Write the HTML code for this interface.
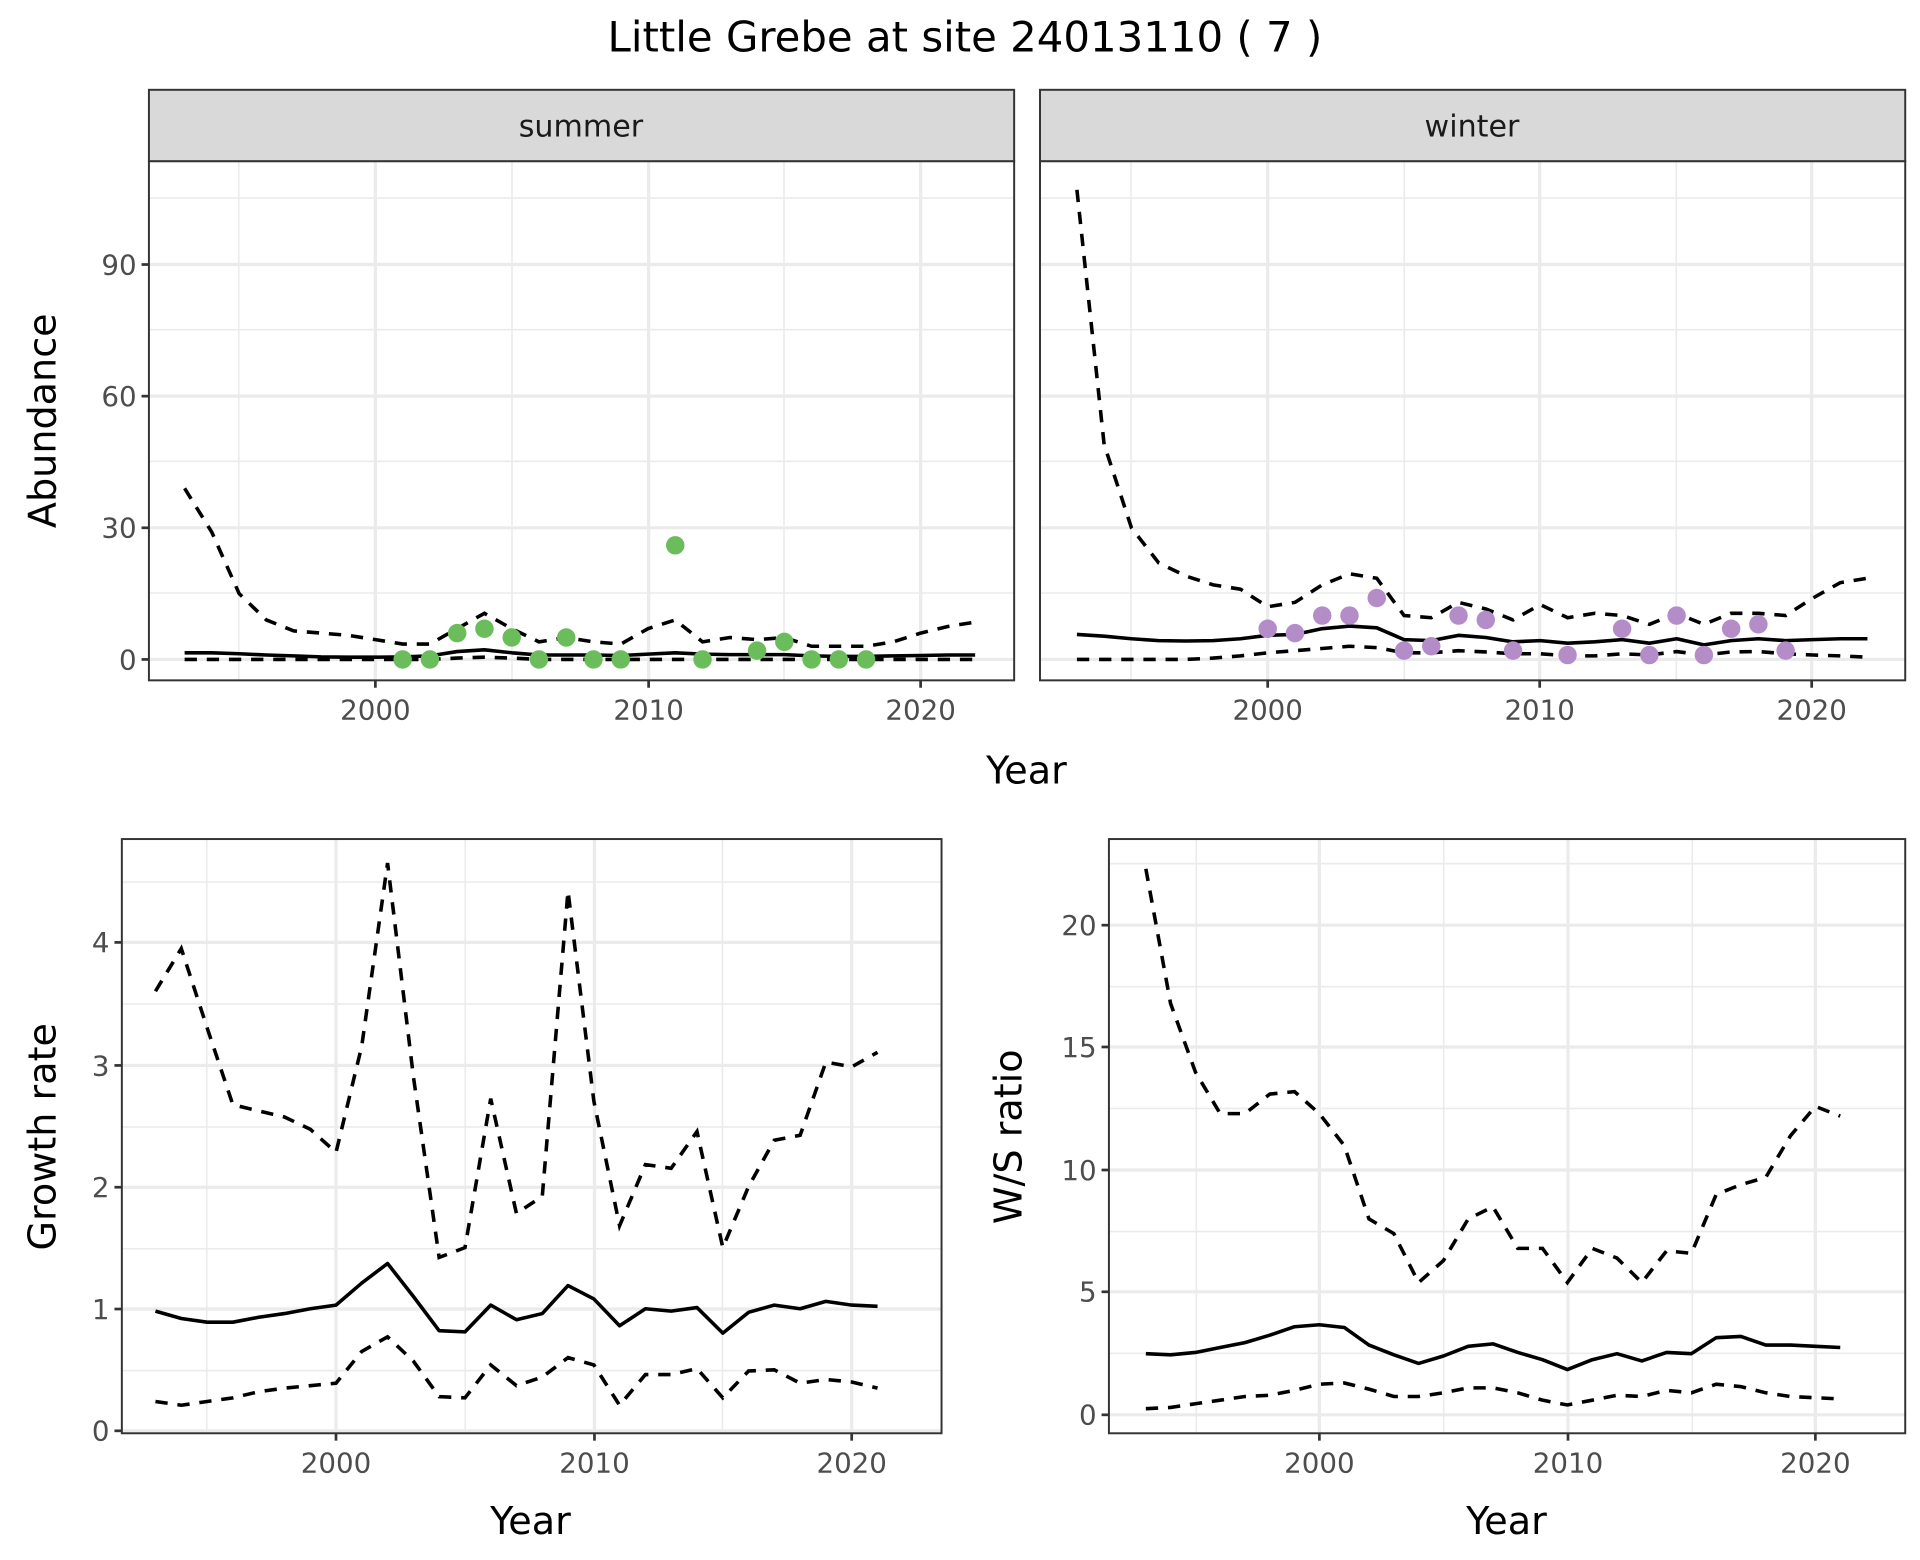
<!DOCTYPE html>
<html><head><meta charset="utf-8"><style>
html,body{margin:0;padding:0;background:#fff;}
svg{display:block;}
text{font-family:"DejaVu Sans","Liberation Sans",sans-serif;}
.tk{font-size:22.5px;fill:#4d4d4d;}
.ax{font-size:31px;fill:#000;}
.gmaj{stroke:#ebebeb;stroke-width:2.6;}
.gmin{stroke:#ebebeb;stroke-width:1.3;}
.bd{fill:none;stroke:#333;stroke-width:1.6;}
.tick{stroke:#333;stroke-width:2.2;}
.s{fill:none;stroke:#000;stroke-width:2.9;stroke-linejoin:round;}
.d{fill:none;stroke:#000;stroke-width:2.9;stroke-dasharray:10,8;}
</style></head><body>
<svg id="c" width="1920" height="1560" viewBox="0 0 1560 1268" preserveAspectRatio="none" xmlns="http://www.w3.org/2000/svg">
<rect width="1560" height="1268" fill="#fff"/>
<text x="784" y="42" text-anchor="middle" style="font-size:34px">Little Grebe at site 24013110 ( 7 )</text>

<g>
<line class="gmin" x1="121" x2="824" y1="161" y2="161"/><line class="gmin" x1="121" x2="824" y1="268" y2="268"/><line class="gmin" x1="121" x2="824" y1="375" y2="375"/><line class="gmin" x1="121" x2="824" y1="482" y2="482"/>
<line class="gmin" x1="194" x2="194" y1="131" y2="553"/><line class="gmin" x1="416" x2="416" y1="131" y2="553"/><line class="gmin" x1="637" x2="637" y1="131" y2="553"/>
<line class="gmaj" x1="121" x2="824" y1="215" y2="215"/><line class="gmaj" x1="121" x2="824" y1="322" y2="322"/><line class="gmaj" x1="121" x2="824" y1="429" y2="429"/><line class="gmaj" x1="121" x2="824" y1="536" y2="536"/>
<line class="gmaj" x1="305" x2="305" y1="131" y2="553"/><line class="gmaj" x1="527" x2="527" y1="131" y2="553"/><line class="gmaj" x1="748" x2="748" y1="131" y2="553"/>
<g id="sumS"></g>
<rect class="bd" x="121" y="131" width="703" height="422"/>
<rect x="121" y="73" width="703" height="58" fill="#d9d9d9" stroke="#333" stroke-width="1.6"/>
<text x="472" y="111" text-anchor="middle" style="font-size:24.5px;fill:#1a1a1a">summer</text>
</g>
<g>
<line class="gmin" x1="845" x2="1548" y1="161" y2="161"/><line class="gmin" x1="845" x2="1548" y1="268" y2="268"/><line class="gmin" x1="845" x2="1548" y1="375" y2="375"/><line class="gmin" x1="845" x2="1548" y1="482" y2="482"/>
<line class="gmin" x1="919" x2="919" y1="131" y2="553"/><line class="gmin" x1="1141" x2="1141" y1="131" y2="553"/><line class="gmin" x1="1362" x2="1362" y1="131" y2="553"/>
<line class="gmaj" x1="845" x2="1548" y1="215" y2="215"/><line class="gmaj" x1="845" x2="1548" y1="322" y2="322"/><line class="gmaj" x1="845" x2="1548" y1="429" y2="429"/><line class="gmaj" x1="845" x2="1548" y1="536" y2="536"/>
<line class="gmaj" x1="1030" x2="1030" y1="131" y2="553"/><line class="gmaj" x1="1251" x2="1251" y1="131" y2="553"/><line class="gmaj" x1="1472" x2="1472" y1="131" y2="553"/>
<g id="winS"></g>
<rect class="bd" x="845" y="131" width="703" height="422"/>
<rect x="845" y="73" width="703" height="58" fill="#d9d9d9" stroke="#333" stroke-width="1.6"/>
<text x="1196" y="111" text-anchor="middle" style="font-size:24.5px;fill:#1a1a1a">winter</text>
</g>
<line class="tick" x1="115" x2="121" y1="215" y2="215"/><line class="tick" x1="115" x2="121" y1="322" y2="322"/><line class="tick" x1="115" x2="121" y1="429" y2="429"/><line class="tick" x1="115" x2="121" y1="536" y2="536"/>
<text class="tk" x="111" y="223" text-anchor="end">90</text><text class="tk" x="111" y="330" text-anchor="end">60</text><text class="tk" x="111" y="437" text-anchor="end">30</text><text class="tk" x="111" y="544" text-anchor="end">0</text>
<line class="tick" x1="305" x2="305" y1="553" y2="559"/><line class="tick" x1="527" x2="527" y1="553" y2="559"/><line class="tick" x1="748" x2="748" y1="553" y2="559"/>
<line class="tick" x1="1030" x2="1030" y1="553" y2="559"/><line class="tick" x1="1251" x2="1251" y1="553" y2="559"/><line class="tick" x1="1472" x2="1472" y1="553" y2="559"/>
<text class="tk" x="305" y="585" text-anchor="middle">2000</text><text class="tk" x="527" y="585" text-anchor="middle">2010</text><text class="tk" x="748" y="585" text-anchor="middle">2020</text>
<text class="tk" x="1030" y="585" text-anchor="middle">2000</text><text class="tk" x="1251" y="585" text-anchor="middle">2010</text><text class="tk" x="1472" y="585" text-anchor="middle">2020</text>
<text class="ax" x="834" y="637" text-anchor="middle">Year</text>
<text class="ax" transform="translate(45,342) rotate(-90)" text-anchor="middle">Abundance</text>

<g>
<line class="gmin" x1="99" x2="765" y1="1114" y2="1114"/><line class="gmin" x1="99" x2="765" y1="1015" y2="1015"/><line class="gmin" x1="99" x2="765" y1="916" y2="916"/><line class="gmin" x1="99" x2="765" y1="816" y2="816"/><line class="gmin" x1="99" x2="765" y1="717" y2="717"/>
<line class="gmin" x1="168" x2="168" y1="682" y2="1165"/><line class="gmin" x1="378" x2="378" y1="682" y2="1165"/><line class="gmin" x1="587" x2="587" y1="682" y2="1165"/>
<line class="gmaj" x1="99" x2="765" y1="1163" y2="1163"/><line class="gmaj" x1="99" x2="765" y1="1064" y2="1064"/><line class="gmaj" x1="99" x2="765" y1="965" y2="965"/><line class="gmaj" x1="99" x2="765" y1="866" y2="866"/><line class="gmaj" x1="99" x2="765" y1="766" y2="766"/>
<line class="gmaj" x1="273" x2="273" y1="682" y2="1165"/><line class="gmaj" x1="483" x2="483" y1="682" y2="1165"/><line class="gmaj" x1="692" x2="692" y1="682" y2="1165"/>
<g id="grS"></g>
<rect class="bd" x="99" y="682" width="666" height="483"/>
</g>
<line class="tick" x1="93" x2="99" y1="1163" y2="1163"/><line class="tick" x1="93" x2="99" y1="1064" y2="1064"/><line class="tick" x1="93" x2="99" y1="965" y2="965"/><line class="tick" x1="93" x2="99" y1="866" y2="866"/><line class="tick" x1="93" x2="99" y1="766" y2="766"/>
<text class="tk" x="89" y="1171" text-anchor="end">0</text><text class="tk" x="89" y="1072" text-anchor="end">1</text><text class="tk" x="89" y="973" text-anchor="end">2</text><text class="tk" x="89" y="874" text-anchor="end">3</text><text class="tk" x="89" y="774" text-anchor="end">4</text>
<line class="tick" x1="273" x2="273" y1="1165" y2="1171"/><line class="tick" x1="483" x2="483" y1="1165" y2="1171"/><line class="tick" x1="692" x2="692" y1="1165" y2="1171"/>
<text class="tk" x="273" y="1197" text-anchor="middle">2000</text><text class="tk" x="483" y="1197" text-anchor="middle">2010</text><text class="tk" x="692" y="1197" text-anchor="middle">2020</text>
<text class="ax" x="431" y="1247" text-anchor="middle">Year</text>
<text class="ax" transform="translate(45,924) rotate(-90)" text-anchor="middle">Growth rate</text>

<g>
<line class="gmin" x1="901" x2="1548" y1="1100" y2="1100"/><line class="gmin" x1="901" x2="1548" y1="1001" y2="1001"/><line class="gmin" x1="901" x2="1548" y1="901" y2="901"/><line class="gmin" x1="901" x2="1548" y1="802" y2="802"/><line class="gmin" x1="901" x2="1548" y1="702" y2="702"/>
<line class="gmin" x1="972" x2="972" y1="682" y2="1165"/><line class="gmin" x1="1173" x2="1173" y1="682" y2="1165"/><line class="gmin" x1="1375" x2="1375" y1="682" y2="1165"/>
<line class="gmaj" x1="901" x2="1548" y1="1150" y2="1150"/><line class="gmaj" x1="901" x2="1548" y1="1050" y2="1050"/><line class="gmaj" x1="901" x2="1548" y1="951" y2="951"/><line class="gmaj" x1="901" x2="1548" y1="851" y2="851"/><line class="gmaj" x1="901" x2="1548" y1="752" y2="752"/>
<line class="gmaj" x1="1072" x2="1072" y1="682" y2="1165"/><line class="gmaj" x1="1274" x2="1274" y1="682" y2="1165"/><line class="gmaj" x1="1475" x2="1475" y1="682" y2="1165"/>
<g id="wsS"></g>
<rect class="bd" x="901" y="682" width="647" height="483"/>
</g>
<line class="tick" x1="895" x2="901" y1="1150" y2="1150"/><line class="tick" x1="895" x2="901" y1="1050" y2="1050"/><line class="tick" x1="895" x2="901" y1="951" y2="951"/><line class="tick" x1="895" x2="901" y1="851" y2="851"/><line class="tick" x1="895" x2="901" y1="752" y2="752"/>
<text class="tk" x="891" y="1158" text-anchor="end">0</text><text class="tk" x="891" y="1058" text-anchor="end">5</text><text class="tk" x="891" y="959" text-anchor="end">10</text><text class="tk" x="891" y="859" text-anchor="end">15</text><text class="tk" x="891" y="760" text-anchor="end">20</text>
<line class="tick" x1="1072" x2="1072" y1="1165" y2="1171"/><line class="tick" x1="1274" x2="1274" y1="1165" y2="1171"/><line class="tick" x1="1475" x2="1475" y1="1165" y2="1171"/>
<text class="tk" x="1072" y="1197" text-anchor="middle">2000</text><text class="tk" x="1274" y="1197" text-anchor="middle">2010</text><text class="tk" x="1475" y="1197" text-anchor="middle">2020</text>
<text class="ax" x="1224" y="1247" text-anchor="middle">Year</text>
<text class="ax" transform="translate(830,924) rotate(-90)" text-anchor="middle">W/S ratio</text>
</svg>
<script>
(function(){
var NS="http://www.w3.org/2000/svg";
function line(g,x0,py,y0,sy,start,data,cls){
 var d="";for(var i=0;i<data.length;i++){var x=x0+(start+i-2000)*py,y=y0-data[i]*sy;d+=(i?"L":"M")+x.toFixed(1)+","+y.toFixed(1);}
 var p=document.createElementNS(NS,"path");p.setAttribute("d",d);p.setAttribute("class",cls);g.appendChild(p);}
function pts(g,x0,py,y0,sy,arr,col){for(var i=0;i<arr.length;i++){var c=document.createElementNS(NS,"circle");c.setAttribute("cx",x0+(arr[i][0]-2000)*py);c.setAttribute("cy",y0-arr[i][1]*sy);c.setAttribute("r",7.5);c.setAttribute("fill",col);g.appendChild(c);}}
var sy=3.567,py=22.15;
var g=document.getElementById("sumS");
line(g,305,py,536,sy,1993,[39,29,15,9,6.5,6,5.5,4.5,3.5,3.5,7,10.5,7,4,5,4,3.5,7,9,4,5,4.5,5,3,3,3,4,6,7.5,8.5],"d");
line(g,305,py,536,sy,1993,[0,0,0,0,0,0,0,0,0,0,0.3,0.5,0.3,0,0,0,0,0,0,0,0,0,0,0,0,0,0,0,0,0],"d");
line(g,305,py,536,sy,1993,[1.5,1.5,1.3,1,0.8,0.6,0.5,0.5,0.6,0.8,1.8,2.2,1.5,1,1,1,0.9,1.2,1.5,1.2,1.1,1.1,1.1,0.8,0.7,0.7,0.8,0.9,1,1],"s");
pts(g,305,py,536,sy,[[2001,0],[2002,0],[2003,6],[2004,7],[2005,5],[2006,0],[2007,5],[2008,0],[2009,0],[2011,26],[2012,0],[2014,2],[2015,4],[2016,0],[2017,0],[2018,0]],"#6abd5a");
g=document.getElementById("winS");
line(g,1030,py,536,sy,1993,[107,49,30,22,19,17,16,12,13,17,19.5,18.5,10,9.5,13,11.5,9,12.5,9.5,10.5,10,8,10.5,8,10.5,10.5,10,14,17.5,18.5],"d");
line(g,1030,py,536,sy,1993,[0,0,0,0,0,0.3,0.8,1.5,2,2.5,3,2.7,1.5,1.5,2,1.7,1.3,1.3,0.8,0.8,1.3,1,1.8,1,1.7,1.8,1.3,1,0.8,0.5],"d");
line(g,1030,py,536,sy,1993,[5.7,5.3,4.7,4.3,4.2,4.3,4.7,5.5,5.7,7,7.6,7.2,4.5,4.3,5.5,5,4,4.3,3.7,4,4.5,3.7,4.7,3.3,4.3,4.7,4.3,4.5,4.7,4.7],"s");
pts(g,1030,py,536,sy,[[2000,7],[2001,6],[2002,10],[2003,10],[2004,14],[2005,2],[2006,3],[2007,10],[2008,9],[2009,2],[2011,1],[2013,7],[2014,1],[2015,10],[2016,1],[2017,7],[2018,8],[2019,2]],"#b48cc8");
g=document.getElementById("grS");
line(g,273,20.95,1163,99.25,1993,[3.6,3.95,3.3,2.67,2.62,2.57,2.47,2.28,3.15,4.65,2.9,1.42,1.5,2.72,1.78,1.92,4.42,2.7,1.68,2.18,2.15,2.45,1.5,2.0,2.38,2.42,3.02,2.98,3.1],"d");
line(g,273,20.95,1163,99.25,1993,[0.24,0.21,0.24,0.27,0.32,0.35,0.37,0.39,0.65,0.77,0.57,0.28,0.27,0.54,0.37,0.44,0.6,0.54,0.21,0.46,0.46,0.51,0.27,0.49,0.5,0.39,0.42,0.4,0.35],"d");
line(g,273,20.95,1163,99.25,1993,[0.98,0.92,0.89,0.89,0.93,0.96,1.0,1.03,1.21,1.37,1.1,0.82,0.81,1.03,0.91,0.96,1.19,1.08,0.86,1.0,0.98,1.01,0.8,0.97,1.03,1.0,1.06,1.03,1.02],"s");
g=document.getElementById("wsS");
line(g,1072,20.15,1150,19.9,1993,[22.3,16.8,14,12.3,12.3,13.1,13.2,12.3,11,8,7.4,5.4,6.3,8,8.5,6.8,6.8,5.4,6.8,6.4,5.4,6.7,6.6,9,9.4,9.7,11.4,12.6,12.2],"d");
line(g,1072,20.15,1150,19.9,1993,[0.25,0.3,0.45,0.6,0.75,0.8,1.0,1.25,1.3,1.05,0.75,0.75,0.9,1.1,1.1,0.9,0.6,0.4,0.6,0.8,0.75,1.0,0.9,1.25,1.15,0.9,0.75,0.7,0.65],"d");
line(g,1072,20.15,1150,19.9,1993,[2.5,2.45,2.55,2.75,2.95,3.25,3.6,3.68,3.57,2.85,2.45,2.1,2.4,2.8,2.9,2.55,2.25,1.85,2.25,2.5,2.2,2.55,2.5,3.15,3.2,2.85,2.85,2.8,2.75],"s");
})();
</script>
</body></html>
